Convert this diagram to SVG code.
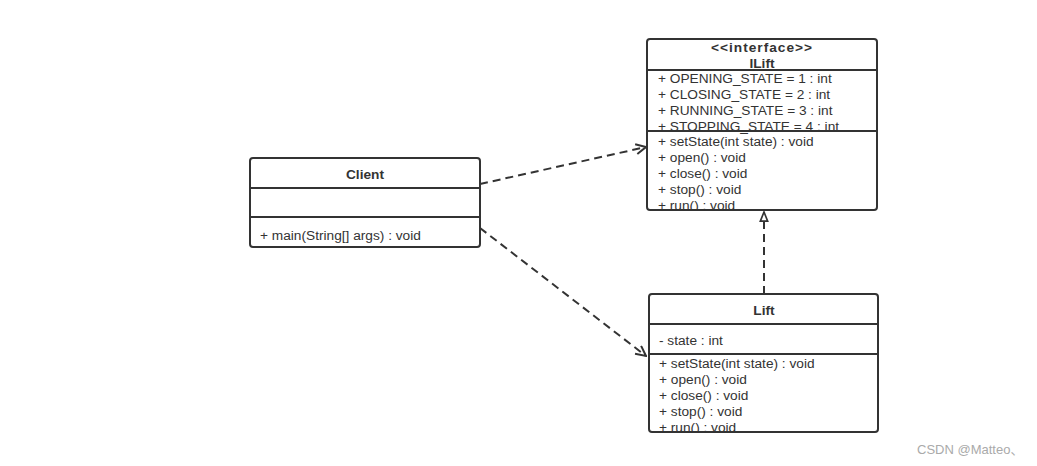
<svg xmlns="http://www.w3.org/2000/svg" width="1037" height="466" viewBox="0 0 1037 466">
<style>
.box{fill:#fff;stroke:#333;stroke-width:2}
.div{stroke:#333;stroke-width:2}
.t{font-family:"Liberation Sans","Noto Sans",sans-serif;font-size:13.7px;fill:#333}
.b{font-weight:bold;text-anchor:middle}
.c{fill:none;stroke:#333;stroke-width:2;stroke-dasharray:8 5}
.wm{font-family:"Liberation Sans","Noto Sans CJK SC",sans-serif;font-size:13px;fill:#aaa}
</style>
<defs>
<marker id="open" viewBox="0 0 12 12" refX="11" refY="6" markerWidth="12" markerHeight="12" markerUnits="userSpaceOnUse" orient="auto">
<path d="M1,1 L11,6 L1,11" fill="none" stroke="#333" stroke-width="2"/>
</marker>
<marker id="tri" viewBox="0 0 12 12" refX="11" refY="6" markerWidth="11" markerHeight="11" markerUnits="userSpaceOnUse" orient="auto">
<path d="M1,2 L11,6 L1,10 Z" fill="#fff" stroke="#333" stroke-width="1.8"/>
</marker>
<clipPath id="cI"><rect x="647" y="39" width="230" height="171"/></clipPath>
<clipPath id="cL"><rect x="649" y="294" width="229" height="138"/></clipPath>
</defs>
<g id="connectors">
<path class="c" d="M480,184 L646,147" marker-end="url(#open)"/>
<path class="c" d="M480,228 L646,356" marker-end="url(#open)"/>
<path class="c" d="M764,294 L764,212" marker-end="url(#tri)"/>
</g>
<g id="client">
<rect class="box" x="250" y="158" width="230" height="89" rx="3"/>
<line class="div" x1="250" y1="188" x2="480" y2="188"/>
<line class="div" x1="250" y1="217" x2="480" y2="217"/>
<text class="t b" x="365" y="179">Client</text>
<text class="t" x="260" y="240">+ main(String[] args) : void</text>
</g>
<g id="ilift">
<rect class="box" x="647" y="39" width="230" height="171" rx="3"/>
<g clip-path="url(#cI)">
<text class="t b" x="762" y="52" letter-spacing="1">&lt;&lt;interface&gt;&gt;</text>
<text class="t b" x="762" y="68">ILift</text>
<text class="t" x="658" y="83">+ OPENING_STATE = 1 : int</text>
<text class="t" x="658" y="99">+ CLOSING_STATE = 2 : int</text>
<text class="t" x="658" y="115">+ RUNNING_STATE = 3 : int</text>
<text class="t" x="658" y="131">+ STOPPING_STATE = 4 : int</text>
<text class="t" x="658" y="146">+ setState(int state) : void</text>
<text class="t" x="658" y="162">+ open() : void</text>
<text class="t" x="658" y="178">+ close() : void</text>
<text class="t" x="658" y="194">+ stop() : void</text>
<text class="t" x="658" y="210">+ run() : void</text>
</g>
<line class="div" x1="647" y1="70" x2="877" y2="70"/>
<line class="div" x1="647" y1="131" x2="877" y2="131"/>
</g>
<g id="lift">
<rect class="box" x="649" y="294" width="229" height="138" rx="3"/>
<g clip-path="url(#cL)">
<text class="t b" x="764" y="315">Lift</text>
<text class="t" x="659" y="345">- state : int</text>
<text class="t" x="659" y="368">+ setState(int state) : void</text>
<text class="t" x="659" y="384">+ open() : void</text>
<text class="t" x="659" y="400">+ close() : void</text>
<text class="t" x="659" y="416">+ stop() : void</text>
<text class="t" x="659" y="432">+ run() : void</text>
</g>
<line class="div" x1="649" y1="324" x2="878" y2="324"/>
<line class="div" x1="649" y1="354" x2="878" y2="354"/>
</g>
<text class="wm" x="917" y="454">CSDN @Matteo、</text>
</svg>
